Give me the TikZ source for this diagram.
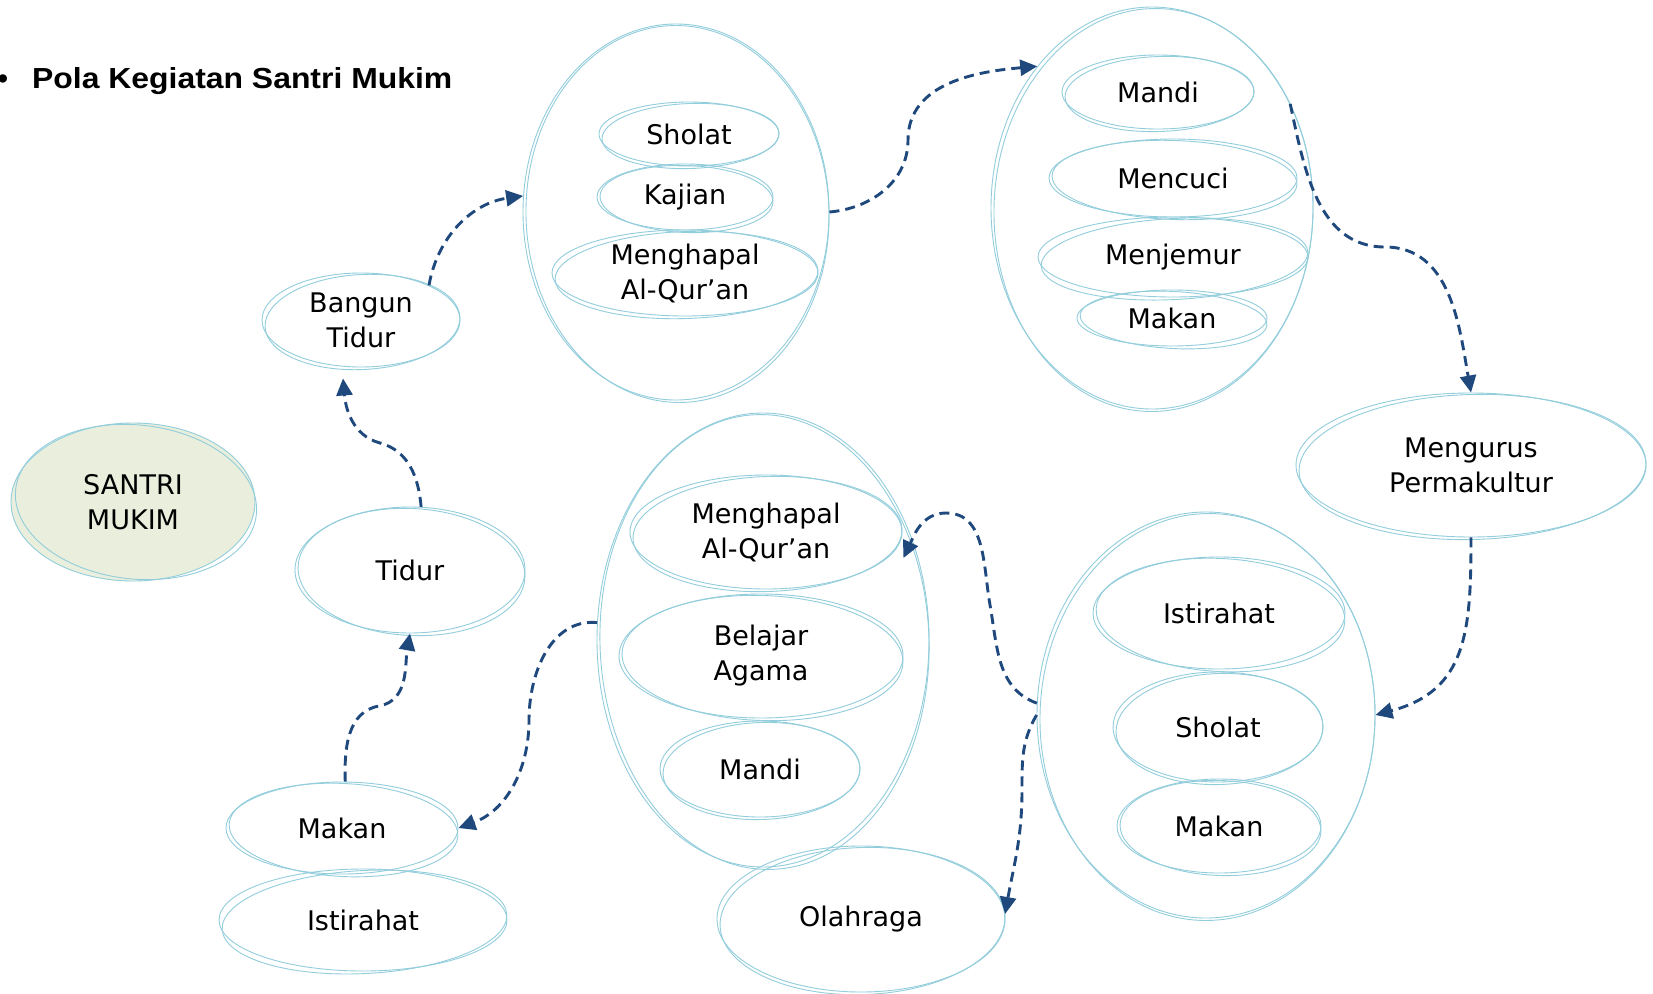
\documentclass[tikz,border=0pt]{standalone}
\usepackage{graphicx}
\usepackage{fontspec}
\setmainfont{DejaVu Sans}
\newfontfamily\titlefont{Liberation Sans}
\usetikzlibrary{shapes.geometric,arrows.meta,calc}

\definecolor{skblue}{RGB}{146,205,220}
\definecolor{flowblue}{RGB}{31,73,125}
\definecolor{leaf}{RGB}{233,239,220}

\tikzset{
  sk/.style={ellipse, draw=skblue, line width=0.9pt, inner sep=0pt, align=center,
             font=\fontsize{27}{35}\selectfont, text=black},
  skline/.style={draw=skblue, line width=0.9pt},
  flow/.style={draw=flowblue, line width=2.9pt, dash pattern=on 10pt off 6pt,
               -{Triangle[length=17pt,width=16pt]}},
}

% sketchy ellipse: a node plus a second, slightly turned outline
% #1 name, #2 x, #3 y (downwards), #4 x radius, #5 y radius, #6 turn, #7 text
\newcommand\skell[7]{%
  \node[sk, minimum width=#4*2pt, minimum height=#5*2pt] (#1) at (#2,-#3) {#7};
  \draw[skline] ([shift={(1.5,-2)}]#1.center) ellipse [x radius=#4-1.5, y radius=#5+0.5, rotate=#6];}

\begin{document}
\begin{tikzpicture}[x=1pt,y=1pt]
\useasboundingbox (0,0) rectangle (1653,-993);
\fill[white] (0,0) rectangle (1653,-993);

% heading
\node[anchor=base, inner sep=0pt, font=\titlefont\bfseries\fontsize{29}{34}\selectfont] (bullet) at (3,-88) {•};
\node[anchor=base west, inner sep=0pt, font=\titlefont\bfseries\fontsize{29}{34}\selectfont] (title) at (32,-88)
  {\scalebox{1.1}[1]{Pola Kegiatan Santri Mukim}};

% start
\node[sk, fill=leaf, minimum width=244pt, minimum height=158pt] (santri) at (133,-502) {SANTRI\\MUKIM};
\draw[skline] ([shift={(3,0)}]santri.center) ellipse [x radius=121, y radius=77, rotate=-6];

% activity groups
\skell{g1}{676}{212}{153}{188}{1.5}{}
\skell{g2}{1152}{208}{161}{201}{-1.5}{}
\skell{g3}{763}{640}{166}{227}{2}{}
\skell{g4}{1206}{715}{169}{203}{-1.5}{}

\skell{g1a}{689}{134}{90}{32}{2}{Sholat}
\skell{g1b}{685}{197}{88}{33}{-2}{Kajian}
\skell{g1c}{685}{273}{133}{43}{2}{Menghapal\\Al-Qur’an}

\skell{g2a}{1158}{92}{96}{37}{2}{Mandi}
\skell{g2b}{1173}{178}{124}{39}{-2}{Mencuci}
\skell{g2c}{1173}{257}{135}{40}{3}{Menjemur}
\skell{g2d}{1172}{318}{95}{28}{-3}{Makan}

\skell{peri}{1471}{465}{175}{72}{1.5}{Mengurus\\Permakultur}

\skell{g3a}{766}{532}{136}{57}{2}{Menghapal\\Al-Qur’an}
\skell{g3b}{761}{656}{142}{62}{-2}{Belajar\\Agama}
\skell{g3c}{760}{769}{100}{48}{2}{Mandi}

\skell{g4a}{1219}{613}{126}{56}{-3}{Istirahat}
\skell{g4b}{1218}{727}{105}{55}{2}{Sholat}
\skell{g4c}{1219}{826}{102}{47}{-2}{Makan}

\skell{olahraga}{861}{919}{144}{73}{2}{Olahraga}
\skell{bangun}{361}{320}{99}{47}{3}{Bangun\\Tidur}
\skell{tidur}{410}{570}{115}{63}{-3}{Tidur}
\skell{makan}{342}{828}{116}{46}{-3}{Makan}
\skell{istirahat}{363}{920}{144}{51}{3}{Istirahat}

% arrow ends that stop short of their node
\coordinate (bTip) at ($(bangun.south)+(-18,-11)$);
\coordinate (qTip) at ($(g3a.east)+(1,-26)$);

% flow of the day
\draw[flow] (tidur.80) to[out=95,in=-15] (380,-443) to[out=165,in=-85] (bTip);
\draw[flow] (bangun.27) to[out=80,in=188] (g1.174);
\draw[flow] (g1.0) to[out=5,in=-90] (908,-140) to[out=90,in=185] (g2.129);
\draw[flow] (g2.37) to[out=-78,in=180] (1385,-247) to[out=0,in=100] (peri.90);
\draw[flow] (peri.-90) to[out=-90,in=15,looseness=1.2] (g4.0);
\draw[flow] (g4.176) to[out=160,in=-80] (990,-605) to[out=100,in=0] (946,-513) to[out=180,in=65] (qTip);
\draw[flow] (g4.180) to[out=-120,in=90] (1022,-790) to[out=-90,in=80] (olahraga.2);
\draw[flow] (g3.174) to[out=175,in=90] (529,-720) to[out=-90,in=20] (makan.0);
\draw[flow] (makan.86) to[out=92,in=190] (379,-706) to[out=10,in=-100] (tidur.-90);
\end{tikzpicture}
\end{document}
